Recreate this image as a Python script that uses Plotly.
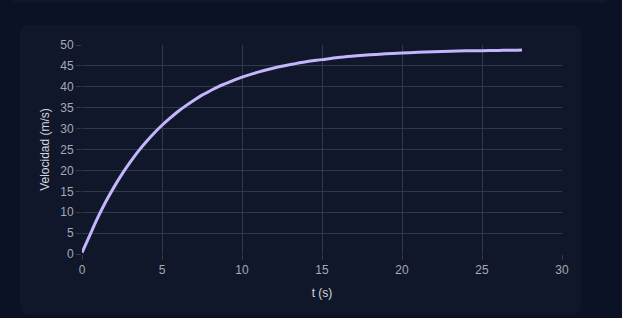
import plotly.graph_objects as go

t_values = [0, 0.5, 1, 1.5, 2, 2.5, 3, 3.5, 4, 4.5, 5, 5.5, 6, 6.5, 7, 7.5, 8, 8.5, 9, 9.5,
            10, 11, 12, 13, 14, 15, 16, 17, 18, 19, 20, 21, 22, 23, 24, 25, 26, 27, 27.5]
v_values = [0.3, 4.6, 8.8, 12.6, 16.0, 19.1, 21.9, 24.5, 26.8, 28.9, 30.8, 32.5, 34.1, 35.5,
            36.8, 38.0, 39.0, 40.0, 40.8, 41.6, 42.3, 43.5, 44.5, 45.3, 46.0, 46.5, 47.0,
            47.35, 47.65, 47.9, 48.1, 48.25, 48.4, 48.5, 48.6, 48.65, 48.7, 48.75, 48.8]
x_ticks = [0, 5, 10, 15, 20, 25, 30]
y_ticks = [0, 5, 10, 15, 20, 25, 30, 35, 40, 45, 50]

W, H = 622, 318
L, R, T, B = 82, 60, 45, 64
pw, ph = W - L - R, H - T - B

def px(x):
    return (x - L) / pw

def py(y):
    return (H - B - y) / ph

def rounded_rect(x0, y0, x1, y1, r):
    rx, ry = r / pw, r / ph
    X0, X1 = px(x0), px(x1)
    Yt, Yb = py(y0), py(y1)
    return (f"M {X0+rx},{Yt} L {X1-rx},{Yt} Q {X1},{Yt} {X1},{Yt-ry} "
            f"L {X1},{Yb+ry} Q {X1},{Yb} {X1-rx},{Yb} L {X0+rx},{Yb} "
            f"Q {X0},{Yb} {X0},{Yb+ry} L {X0},{Yt-ry} Q {X0},{Yt} {X0+rx},{Yt} Z")

grid = "#303b49"
fig = go.Figure()
fig.add_trace(go.Scatter(x=t_values, y=v_values, mode="lines",
                         line=dict(color="#c4b5fd", width=3, shape="spline"),
                         hoverinfo="skip", showlegend=False))

fig.update_layout(
    width=W, height=H,
    margin=dict(l=L, r=R, t=T, b=B),
    paper_bgcolor="#0c1226",
    plot_bgcolor="rgba(0,0,0,0)",
    font=dict(family="Liberation Sans, Arial, sans-serif", size=12, color="#a3aab8"),
    shapes=[
        dict(type="path", xref="paper", yref="paper", layer="below",
             path=rounded_rect(20, 25, 581, 315, 10),
             fillcolor="#10172a", line=dict(width=0)),
        dict(type="path", xref="paper", yref="paper", layer="below",
             path=rounded_rect(12, -20, 608, 3, 6),
             fillcolor="#10172a", line=dict(width=0)),
    ],
    xaxis=dict(range=[0, 30], tickvals=x_ticks, showgrid=True, gridcolor=grid,
               gridwidth=1, zeroline=False, showline=False, ticks="outside",
               ticklen=5, tickcolor=grid, tickfont=dict(size=12, color="#a3aab8"),
               title=dict(text="t (s)", font=dict(size=12, color="#d4d8df"), standoff=12),
               fixedrange=True),
    yaxis=dict(range=[0, 50], tickvals=y_ticks, showgrid=True, gridcolor=grid,
               gridwidth=1, zeroline=False, showline=False, ticks="outside",
               ticklen=5, tickcolor=grid, tickfont=dict(size=12, color="#a3aab8"),
               title=dict(text="Velocidad (m/s)", font=dict(size=12, color="#d4d8df"), standoff=8),
               fixedrange=True),
)

fig.write_html("out.html", config={"displayModeBar": False})
